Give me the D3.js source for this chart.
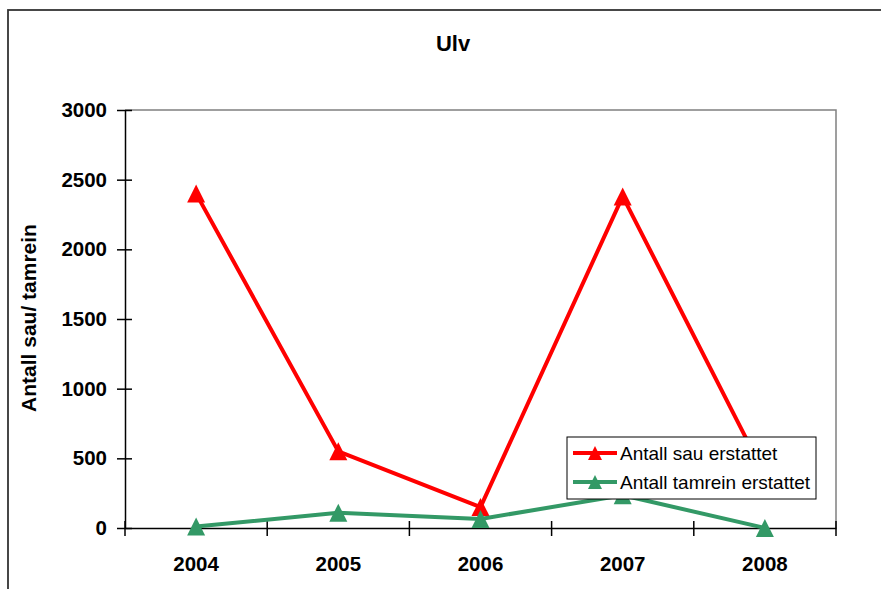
<!DOCTYPE html>
<html>
<head>
<meta charset="utf-8">
<script src="https://cdn.jsdelivr.net/npm/d3@7"></script>
<style>
  html, body { margin: 0; padding: 0; background: #fff; }
  svg { display: block; }
  text { font-family: "Liberation Sans", Arial, sans-serif; }
</style>
</head>
<body>
<script>
const years = ["2004", "2005", "2006", "2007", "2008"];
const sauValues = [2400, 550, 150, 2380, 380];
const tamreinValues = [10, 110, 65, 235, 0];
const yTicks = [0, 500, 1000, 1500, 2000, 2500, 3000];
const seriesNames = ["Antall sau erstattet", "Antall tamrein erstattet"];
const titleText = "Ulv";
const yLabel = "Antall sau/ tamrein";

const W = 881, H = 589;
const svg = d3.select("body").append("svg").attr("width", W).attr("height", H);

// outer chart border (extends beyond the right/bottom edges)
svg.append("rect").attr("x", 8).attr("y", 10).attr("width", 900).attr("height", 600)
  .attr("fill", "#fff").attr("stroke", "#333").attr("stroke-width", 1.8);

const plot = { left: 125, right: 836, top: 110, bottom: 528 };
const x = d3.scaleBand().domain(years).range([plot.left, plot.right]).padding(0);
const y = d3.scaleLinear().domain([0, 3000]).range([plot.bottom, plot.top]);

// plot area border (gray top & right)
svg.append("path")
  .attr("d", `M${plot.left},${plot.top}H${plot.right}V${plot.bottom}`)
  .attr("fill", "none").attr("stroke", "#808080").attr("stroke-width", 1.5);

// title
svg.append("text").attr("x", 453).attr("y", 51).attr("text-anchor", "middle")
  .attr("font-size", 22).attr("font-weight", "bold").text(titleText);

// y label
svg.append("text").attr("transform", `translate(36,318) rotate(-90)`)
  .attr("text-anchor", "middle").attr("font-size", 21).attr("font-weight", "bold").text(yLabel);

// Y axis
const yAxis = svg.append("g").attr("transform", `translate(${plot.left},0)`)
  .call(d3.axisLeft(y).tickValues(yTicks).tickSize(0).tickPadding(18).tickFormat(d3.format("d")));
yAxis.select(".domain").attr("stroke", "#000").attr("stroke-width", 1.5);
yAxis.selectAll("text").attr("font-size", 20.5).attr("font-weight", "bold").attr("fill", "#000")
  .attr("font-family", "Liberation Sans, Arial, sans-serif");
yAxis.selectAll(".tick").append("line").attr("x1", -8).attr("x2", 7)
  .attr("stroke", "#000").attr("stroke-width", 1.5);

// X axis
const xAxis = svg.append("g").attr("transform", `translate(0,${plot.bottom})`)
  .call(d3.axisBottom(x).tickSize(0).tickPadding(28));
xAxis.select(".domain").attr("stroke", "#000").attr("stroke-width", 1.5);
xAxis.selectAll("text").attr("font-size", 20.5).attr("font-weight", "bold").attr("fill", "#000")
  .attr("font-family", "Liberation Sans, Arial, sans-serif");
const bounds = years.map(d => x(d)).concat([x(years[years.length - 1]) + x.bandwidth()]);
xAxis.selectAll("line.bound").data(bounds).enter().append("line").attr("class", "bound")
  .attr("x1", d => d).attr("x2", d => d).attr("y1", -7).attr("y2", 8)
  .attr("stroke", "#000").attr("stroke-width", 1.5);

// series
const tri = (cx, cy, s) => `M${cx},${cy - s}L${cx - s},${cy + s}L${cx + s},${cy + s}Z`;
const series = [
  { name: seriesNames[0], values: sauValues, color: "#FF0000" },
  { name: seriesNames[1], values: tamreinValues, color: "#339966" }
];
const line = d3.line().x((d, i) => x(years[i]) + x.bandwidth() / 2).y(d => y(d));
series.forEach(s => {
  const g = svg.append("g");
  g.append("path").attr("d", line(s.values)).attr("fill", "none")
    .attr("stroke", s.color).attr("stroke-width", 4).attr("stroke-linejoin", "round");
  g.selectAll("path.m").data(s.values).enter().append("path").attr("class", "m")
    .attr("d", (d, i) => tri(x(years[i]) + x.bandwidth() / 2, y(d), 9))
    .attr("fill", s.color);
});

// legend
const lg = svg.append("g");
lg.append("rect").attr("x", 567).attr("y", 437).attr("width", 249).attr("height", 62)
  .attr("fill", "#fff").attr("stroke", "#000").attr("stroke-width", 1);
series.forEach((s, i) => {
  const cy = 453 + i * 29;
  lg.append("line").attr("x1", 573).attr("x2", 617).attr("y1", cy).attr("y2", cy)
    .attr("stroke", s.color).attr("stroke-width", 4);
  lg.append("path").attr("d", tri(595, cy, 7)).attr("fill", s.color);
  lg.append("text").attr("x", 620).attr("y", cy + 7).attr("font-size", 19).text(s.name);
});
</script>
</body>
</html>
